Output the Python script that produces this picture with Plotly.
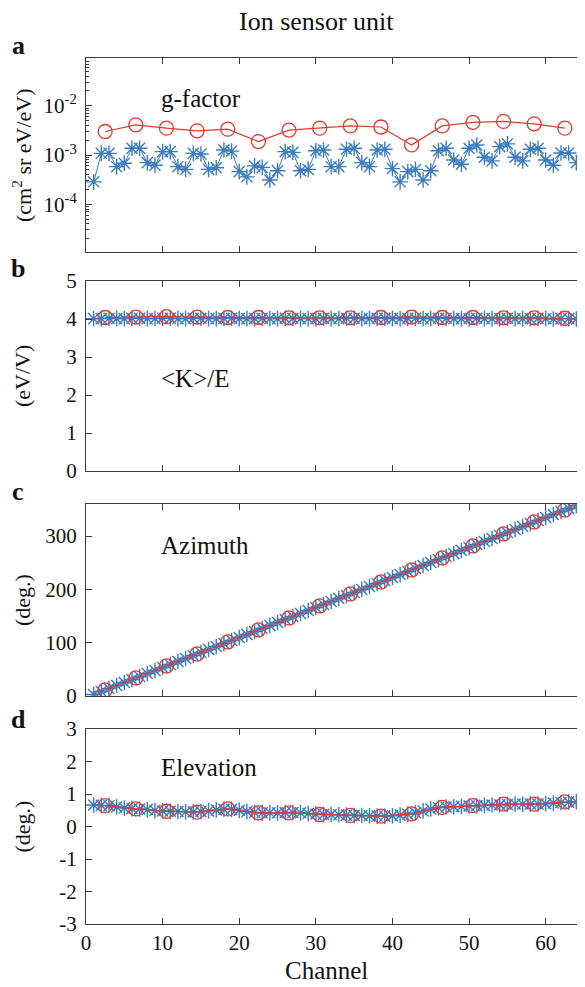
import plotly.graph_objects as go
from plotly.subplots import make_subplots

# ---------------- data ----------------
channels = list(range(1, 65))
sectors = [2.5, 6.5, 10.5, 14.5, 18.5, 22.5, 26.5, 30.5, 34.5, 38.5, 42.5, 46.5, 50.5, 54.5, 58.5, 62.5]

gfactor_ch = [2.85e-4, 1.08e-3, 1.08e-3, 5.8e-4, 6.8e-4, 1.37e-3, 1.37e-3, 7.0e-4,
              6.2e-4, 1.17e-3, 1.17e-3, 5.8e-4, 5.1e-4, 1.08e-3, 1.05e-3, 5.1e-4,
              5.5e-4, 1.26e-3, 1.2e-3, 4.6e-4, 3.6e-4, 6.0e-4, 5.6e-4, 3.1e-4,
              4.8e-4, 1.17e-3, 1.13e-3, 4.8e-4, 5.1e-4, 1.22e-3, 1.26e-3, 5.8e-4,
              5.8e-4, 1.31e-3, 1.37e-3, 7.0e-4, 5.8e-4, 1.26e-3, 1.31e-3, 5.3e-4,
              2.85e-4, 4.6e-4, 5.1e-4, 3.1e-4, 4.8e-4, 1.22e-3, 1.37e-3, 7.9e-4,
              6.5e-4, 1.37e-3, 1.6e-3, 9.0e-4, 7.6e-4, 1.48e-3, 1.68e-3, 9.0e-4,
              7.6e-4, 1.31e-3, 1.37e-3, 7.9e-4, 6.2e-4, 1.1e-3, 1.1e-3, 7.0e-4]
gfactor_sec = [3.0e-3, 4.1e-3, 3.5e-3, 3.1e-3, 3.35e-3, 1.87e-3, 3.2e-3, 3.5e-3,
               3.9e-3, 3.7e-3, 1.6e-3, 3.9e-3, 4.6e-3, 4.8e-3, 4.3e-3, 3.5e-3]

ke_ch = [4.01, 4.01, 4.02, 4.01, 4.01, 4.02, 4.02, 4.01, 4.01, 4.02, 4.02, 4.01, 4.01, 4.02, 4.02, 4.01,
         4.01, 4.02, 4.02, 4.01, 4.01, 4.01, 4.02, 4.01, 4.01, 4.02, 4.02, 4.01, 4.01, 4.01, 4.02, 4.01,
         4.01, 4.02, 4.02, 4.01, 4.01, 4.02, 4.02, 4.01, 4.01, 4.02, 4.02, 4.01, 4.01, 4.02, 4.02, 4.01,
         4.01, 4.01, 4.02, 4.01, 4.01, 4.01, 4.02, 4.01, 4.01, 4.01, 4.02, 4.01, 4.00, 4.01, 4.01, 4.00]
ke_sec = [4.04, 4.05, 4.06, 4.05, 4.04, 4.04, 4.03, 4.03, 4.03, 4.04, 4.05, 4.04, 4.04, 4.03, 4.03, 4.02]

azimuth_ch = [2.8, 8.4, 14.1, 19.7, 25.3, 30.9, 36.6, 42.2, 47.8, 53.4, 59.1, 64.7, 70.3, 75.9, 81.6, 87.2,
              92.8, 98.4, 104.1, 109.7, 115.3, 120.9, 126.6, 132.2, 137.8, 143.4, 149.1, 154.7, 160.3, 165.9, 171.6, 177.2,
              182.8, 188.4, 194.1, 199.7, 205.3, 210.9, 216.6, 222.2, 227.8, 233.4, 239.1, 244.7, 250.3, 255.9, 261.6, 267.2,
              272.8, 278.4, 284.1, 289.7, 295.3, 300.9, 306.6, 312.2, 317.8, 323.4, 329.1, 334.7, 340.3, 345.9, 351.6, 357.2]
azimuth_sec = [11.3, 33.8, 56.3, 78.8, 101.3, 123.8, 146.3, 168.8,
               191.3, 213.8, 236.3, 258.8, 281.3, 303.8, 326.3, 348.8]

elevation_ch = [0.66, 0.65, 0.64, 0.60, 0.57, 0.55, 0.54, 0.52, 0.49, 0.48, 0.47, 0.46, 0.45, 0.45, 0.46, 0.48,
                0.51, 0.53, 0.53, 0.50, 0.46, 0.43, 0.42, 0.42, 0.42, 0.43, 0.43, 0.42, 0.40, 0.38, 0.37, 0.37,
                0.36, 0.35, 0.34, 0.34, 0.33, 0.32, 0.32, 0.33, 0.35, 0.38, 0.42, 0.48, 0.54, 0.58, 0.60, 0.61,
                0.62, 0.63, 0.64, 0.65, 0.66, 0.67, 0.68, 0.69, 0.69, 0.69, 0.69, 0.70, 0.72, 0.74, 0.75, 0.76]
elevation_sec = [0.64, 0.54, 0.47, 0.44, 0.54, 0.42, 0.42, 0.37,
                 0.34, 0.32, 0.39, 0.59, 0.64, 0.69, 0.69, 0.76]

x_ticks = [0, 10, 20, 30, 40, 50, 60]
g_ticks = [1e-4, 1e-3, 1e-2]
g_ticktext = ["10<sup>-4</sup>", "10<sup>-3</sup>", "10<sup>-2</sup>"]
g_minor = [m * 10.0 ** e for e in (-5, -4, -3, -2) for m in (2, 3, 4, 5, 6, 7, 8, 9)]
ke_ticks = [0, 1, 2, 3, 4, 5]
az_ticks = [0, 100, 200, 300]
el_ticks = [-3, -2, -1, 0, 1, 2, 3]
el_ticktext = ["-3", "-2", "-1", "0", "1", "2", "3"]

panel_names = ["g-factor", "&lt;K&gt;/E", "Azimuth", "Elevation"]
panel_letters = ["a", "b", "c", "d"]
y_titles = ["(cm<sup>2</sup> sr eV/eV)", "(eV/V)", "(deg.)", "(deg.)"]

# ---------------- style / layout ----------------
OFF = 8  # page body margin
W, H = 585 - OFF, 987 - OFF
ML, MR, MT, MB = 86 - OFF, 1, 58 - OFF, 987 - 924
PW, PH = W - ML - MR, H - MT - MB
BLUE = "#3b7cc0"
RED = "#e5392d"
AX = "#3a3a3a"
FONT = "Liberation Serif, Times New Roman, serif"

panels_px = [(58, 252), (281, 471), (504, 696), (729, 924)]


def py2paper(py):
    return (H - MB - (py - OFF)) / PH


def px2paper(px):
    return (px - OFF - ML) / PW


fig = make_subplots(rows=4, cols=1, shared_xaxes=False)

series = [(gfactor_ch, gfactor_sec), (ke_ch, ke_sec), (azimuth_ch, azimuth_sec), (elevation_ch, elevation_sec)]
for i, (ych, ysec) in enumerate(series):
    fig.add_trace(go.Scatter(x=channels, y=ych, mode="lines+markers",
                             line=dict(color=BLUE, width=1),
                             marker=dict(symbol="asterisk-open", size=13,
                                         line=dict(color=BLUE, width=1.4)),
                             showlegend=False), row=i + 1, col=1)
    fig.add_trace(go.Scatter(x=sectors, y=ysec, mode="lines+markers",
                             line=dict(color=RED, width=1.2),
                             marker=dict(symbol="circle-open", size=14,
                                         line=dict(color=RED, width=1.3)),
                             showlegend=False), row=i + 1, col=1)

common_axis = dict(showline=True, linecolor=AX, linewidth=1, mirror="ticks",
                   ticks="inside", tickcolor=AX, ticklen=6, showgrid=False, zeroline=False,
                   tickfont=dict(family=FONT, size=21, color="#111"))

for i in range(4):
    top, bot = panels_px[i]
    fig.update_xaxes(common_axis, range=[0, 65], tickvals=x_ticks,
                     showticklabels=(i == 3), row=i + 1, col=1)
    fig.update_yaxes(common_axis, domain=[py2paper(bot), py2paper(top)],
                     ticklabelstandoff=4, row=i + 1, col=1)

fig.update_yaxes(type="log", range=[-4.97, -1.03], tickvals=g_ticks, ticktext=g_ticktext,
                 minor=dict(ticks="inside", ticklen=3, tickcolor=AX, tickmode="array", tickvals=g_minor),
                 row=1, col=1)
fig.update_yaxes(range=[0, 5], tickvals=ke_ticks, row=2, col=1)
fig.update_yaxes(range=[0, 360], tickvals=az_ticks, row=3, col=1)
fig.update_yaxes(range=[-3, 3], tickvals=el_ticks, ticktext=el_ticktext, row=4, col=1)

annotations = []
annotations.append(dict(text="Ion sensor unit", x=px2paper(316), y=py2paper(22), xref="paper", yref="paper",
                        showarrow=False, xanchor="center", yanchor="middle",
                        font=dict(family=FONT, size=26, color="#111")))
annotations.append(dict(text="Channel", x=px2paper(326), y=py2paper(970), xref="paper", yref="paper",
                        showarrow=False, xanchor="center", yanchor="middle",
                        font=dict(family=FONT, size=25, color="#111")))
letter_y = [45, 269, 492, 719]
name_y = [98, 378, 545, 767]
for i in range(4):
    top, bot = panels_px[i]
    annotations.append(dict(text="<b>%s</b>" % panel_letters[i], x=px2paper(18), y=py2paper(letter_y[i]),
                            xref="paper", yref="paper", showarrow=False, xanchor="center", yanchor="middle",
                            font=dict(family=FONT, size=26, color="#111")))
    annotations.append(dict(text=panel_names[i], x=px2paper(159), y=py2paper(name_y[i]),
                            xref="paper", yref="paper", showarrow=False, xanchor="left", yanchor="middle",
                            font=dict(family=FONT, size=25, color="#111")))
    annotations.append(dict(text=y_titles[i], x=px2paper(22), y=py2paper((top + bot) / 2),
                            xref="paper", yref="paper", showarrow=False, xanchor="center", yanchor="middle",
                            textangle=-90, font=dict(family=FONT, size=22, color="#111")))

fig.update_layout(width=W, height=H, margin=dict(l=ML, r=MR, t=MT, b=MB),
                  paper_bgcolor="white", plot_bgcolor="white", annotations=annotations)

fig.write_html("out.html")
